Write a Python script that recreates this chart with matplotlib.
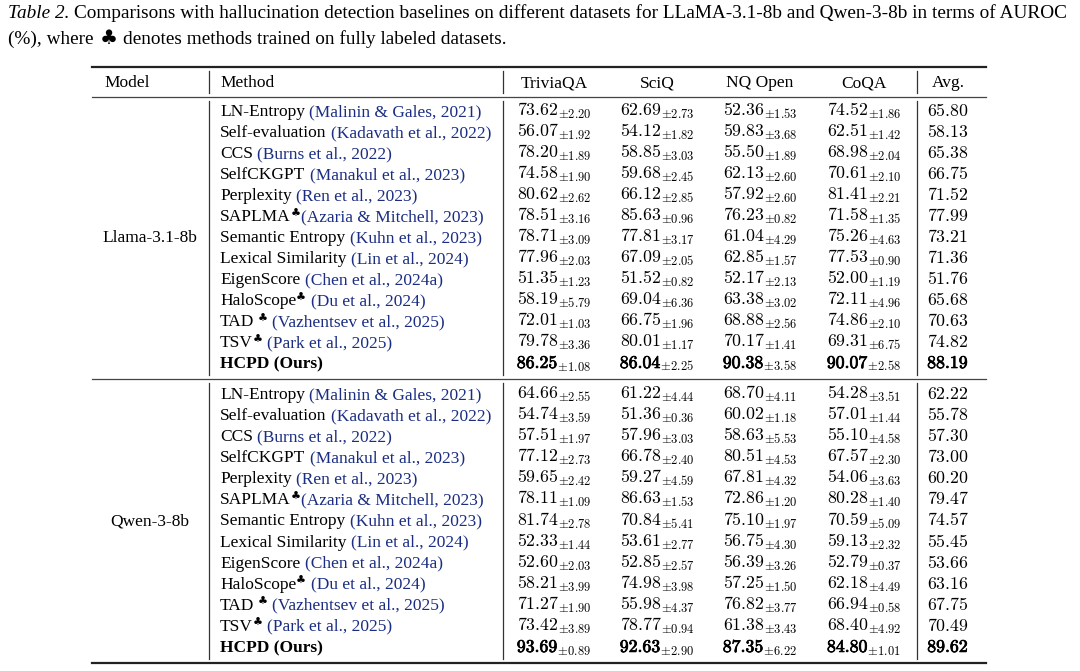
import matplotlib
matplotlib.use("Agg")
import matplotlib.pyplot as plt
import matplotlib.patheffects as pe

plt.rcParams['mathtext.fontset'] = 'cm'

# Table columns
models = ["Llama-3.1-8b", "Qwen-3-8b"]
datasets = ["TriviaQA", "SciQ", "NQ Open", "CoQA"]
methods = ["LN-Entropy", "Self-evaluation", "CCS", "SelfCKGPT", "Perplexity", "SAPLMA",
           "Semantic Entropy", "Lexical Similarity", "EigenScore", "HaloScope", "TAD", "TSV",
           "HCPD (Ours)"]
cites = ["Malinin & Gales, 2021", "Kadavath et al., 2022", "Burns et al., 2022",
         "Manakul et al., 2023", "Ren et al., 2023", "Azaria & Mitchell, 2023",
         "Kuhn et al., 2023", "Lin et al., 2024", "Chen et al., 2024a", "Du et al., 2024",
         "Vazhentsev et al., 2025", "Park et al., 2025", None]
# 0 = no club, 1 = club right after name, 2 = club after a space
club = [0, 0, 0, 0, 0, 1, 0, 0, 0, 1, 2, 1, 0]
space_after_club = [True] * 13
space_after_club[5] = False

# LLaMA-3.1-8b
llama_trivia = [73.62, 56.07, 78.20, 74.58, 80.62, 78.51, 78.71, 77.96, 51.35, 58.19, 72.01, 79.78, 86.25]
llama_trivia_sd = [2.20, 1.92, 1.89, 1.90, 2.62, 3.16, 3.09, 2.03, 1.23, 5.79, 1.03, 3.36, 1.08]
llama_sciq = [62.69, 54.12, 58.85, 59.68, 66.12, 85.63, 77.81, 67.09, 51.52, 69.04, 66.75, 80.01, 86.04]
llama_sciq_sd = [2.73, 1.82, 3.03, 2.45, 2.85, 0.96, 3.17, 2.05, 0.82, 6.36, 1.96, 1.17, 2.25]
llama_nq = [52.36, 59.83, 55.50, 62.13, 57.92, 76.23, 61.04, 62.85, 52.17, 63.38, 68.88, 70.17, 90.38]
llama_nq_sd = [1.53, 3.68, 1.89, 2.60, 2.60, 0.82, 4.29, 1.57, 2.13, 3.02, 2.56, 1.41, 3.58]
llama_coqa = [74.52, 62.51, 68.98, 70.61, 81.41, 71.58, 75.26, 77.53, 52.00, 72.11, 74.86, 69.31, 90.07]
llama_coqa_sd = [1.86, 1.42, 2.04, 2.10, 2.21, 1.35, 4.63, 0.90, 1.19, 4.96, 2.10, 6.75, 2.58]
llama_avg = [65.80, 58.13, 65.38, 66.75, 71.52, 77.99, 73.21, 71.36, 51.76, 65.68, 70.63, 74.82, 88.19]

# Qwen-3-8b
qwen_trivia = [64.66, 54.74, 57.51, 77.12, 59.65, 78.11, 81.74, 52.33, 52.60, 58.21, 71.27, 73.42, 93.69]
qwen_trivia_sd = [2.55, 3.59, 1.97, 2.73, 2.42, 1.09, 2.78, 1.44, 2.03, 3.99, 1.90, 3.89, 0.89]
qwen_sciq = [61.22, 51.36, 57.96, 66.78, 59.27, 86.63, 70.84, 53.61, 52.85, 74.98, 55.98, 78.77, 92.63]
qwen_sciq_sd = [4.44, 0.36, 3.03, 2.40, 4.59, 1.53, 5.41, 2.77, 2.57, 3.98, 4.37, 0.94, 2.90]
qwen_nq = [68.70, 60.02, 58.63, 80.51, 67.81, 72.86, 75.10, 56.75, 56.39, 57.25, 76.82, 61.38, 87.35]
qwen_nq_sd = [4.11, 1.18, 5.53, 4.53, 4.32, 1.20, 1.97, 4.30, 3.26, 1.50, 3.77, 3.43, 6.22]
qwen_coqa = [54.28, 57.01, 55.10, 67.57, 54.06, 80.28, 70.59, 59.13, 52.79, 62.18, 66.94, 68.40, 84.80]
qwen_coqa_sd = [3.51, 1.44, 4.58, 2.30, 3.63, 1.40, 5.09, 2.32, 0.37, 4.49, 0.58, 4.92, 1.01]
qwen_avg = [62.22, 55.78, 57.30, 73.00, 60.20, 79.47, 74.57, 55.45, 53.66, 63.16, 67.75, 70.49, 89.62]

groups = [
    ([llama_trivia, llama_sciq, llama_nq, llama_coqa],
     [llama_trivia_sd, llama_sciq_sd, llama_nq_sd, llama_coqa_sd], llama_avg),
    ([qwen_trivia, qwen_sciq, qwen_nq, qwen_coqa],
     [qwen_trivia_sd, qwen_sciq_sd, qwen_nq_sd, qwen_coqa_sd], qwen_avg),
]

SERIF = ['Liberation Serif', 'DejaVu Sans']
CITE = '#1a2d82'
FS = 12.5
NUM_FS = 12.8
BOLD = [pe.withStroke(linewidth=0.55, foreground='black')]

fig = plt.figure(figsize=(10.8, 6.71), dpi=100)
ax = fig.add_axes([0, 0, 1, 1])
ax.set_xlim(0, 1080)
ax.set_ylim(671, 0)
ax.axis('off')
renderer = fig.canvas.get_renderer()


def width(s, **kw):
    t = ax.text(0, 0, s, **kw)
    w = t.get_window_extent(renderer).width
    t.remove()
    return w


def space(**kw):
    return width("a a", **kw) - width("aa", **kw)


def run(x, y, pieces):
    # pieces: (text, props, dy, leading_space)
    for s, kw, dy, lead in pieces:
        if lead:
            x += space(**kw)
        t = ax.text(x, y + dy, s, va='baseline', ha='left', **kw)
        x += t.get_window_extent(renderer).width
    return x


# caption
cap = dict(family=SERIF, fontsize=13.85, color='black')
run(8, 18, [("Table 2.", dict(cap, style='italic'), 0, False),
            ("Comparisons with hallucination detection baselines on different datasets for "
             "LLaMA-3.1-8b and Qwen-3-8b in terms of AUROC", cap, 0, True)])
run(8, 44, [("(%), where", cap, 0, False),
            ("\u2663", dict(family=['DejaVu Sans'], fontsize=14.5), 0, True),
            ("denotes methods trained on fully labeled datasets.", cap, 0, True)])

# rules
x0, x1 = 92, 986
ax.plot([x0, x1], [67, 67], color='#222222', lw=1.6)
ax.plot([x0, x1], [97, 97], color='#444444', lw=0.9)
ax.plot([x0, x1], [379, 379], color='#444444', lw=0.9)
ax.plot([x0, x1], [663, 663], color='#222222', lw=1.6)
for vx in [209, 503, 917]:
    for ya, yb in [(71, 93), (101, 375), (383, 659)]:
        ax.plot([vx, vx], [ya, yb], color='#333333', lw=0.9)

# header
hdr = dict(family=SERIF, fontsize=FS)
ax.text(104, 87, "Model", va='baseline', **hdr)
ax.text(220, 87, "Method", va='baseline', **hdr)
col_x = [554, 657, 760, 864]
for cx, name in zip(col_x, datasets):
    ax.text(cx, 87, name, ha='center', va='baseline', **hdr)
ax.text(948, 87, "Avg.", ha='center', va='baseline', **hdr)

base_y = [116, 399]
step = [21.0, 21.08]
for g, (vals, sds, avg) in enumerate(groups):
    ys = [base_y[g] + step[g] * i for i in range(len(methods))]
    ax.text(150, (ys[0] + ys[-1]) / 2, models[g], ha='center', va='baseline', **hdr)
    for i, y in enumerate(ys):
        last = i == len(methods) - 1
        name_kw = dict(hdr, weight='bold') if last else hdr
        pieces = [(methods[i], name_kw, 0, False)]
        if club[i]:
            pieces.append(("\u2663", dict(family=['DejaVu Sans'], fontsize=8), -4.5, club[i] == 2))
        if cites[i]:
            pieces.append(("(" + cites[i] + ")", dict(hdr, color=CITE), 0,
                           space_after_club[i] or not club[i]))
        run(220, y, pieces)
        for cx, v, sd in zip(col_x, vals, sds):
            full = r"$%.2f_{\pm %.2f}$" % (v[i], sd[i])
            if not last:
                ax.text(cx, y, full, ha='center', va='baseline', fontsize=NUM_FS)
                continue
            # best scores: heavier main number, normal subscript
            wf = width(full, fontsize=NUM_FS)
            left = cx - wf / 2
            ax.text(left, y, r"$%.2f$" % v[i], ha='left', va='baseline', fontsize=NUM_FS,
                    path_effects=BOLD)
            ax.text(left + wf, y, r"${}_{\pm %.2f}$" % sd[i], ha='right', va='baseline',
                    fontsize=NUM_FS)
        t = ax.text(948, y, r"$%.2f$" % avg[i], ha='center', va='baseline', fontsize=NUM_FS)
        if last:
            t.set_path_effects(BOLD)

fig.savefig("out.png", dpi=100, facecolor='white')
